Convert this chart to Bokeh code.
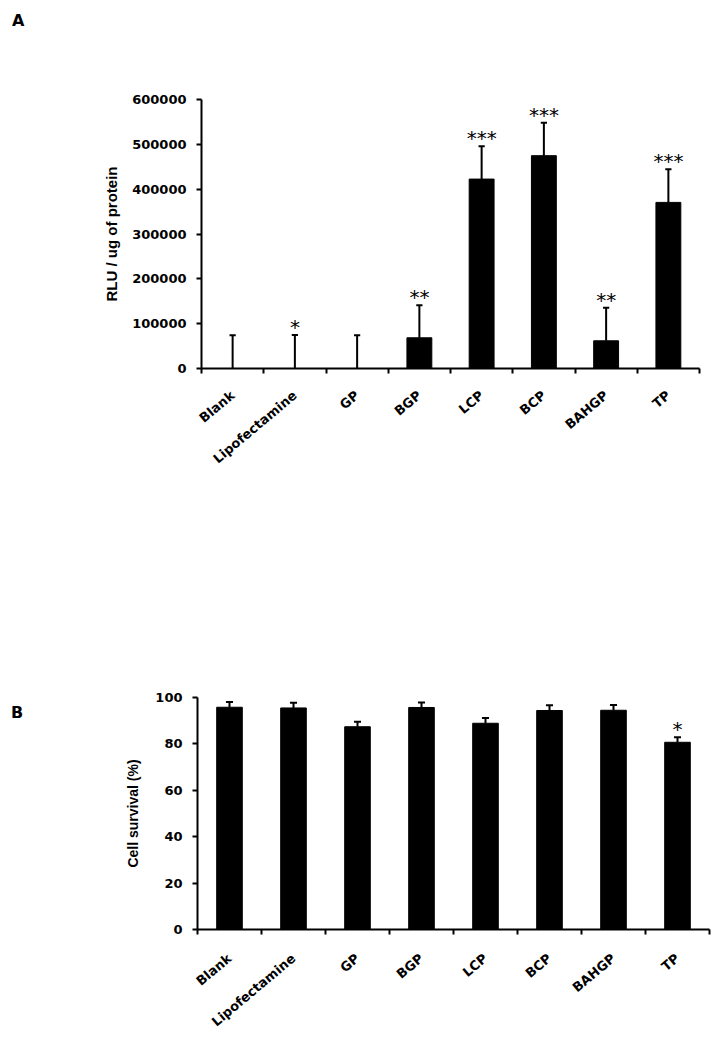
import math
from bokeh.plotting import figure
from bokeh.models import ColumnDataSource, FixedTicker, NumeralTickFormatter, Range1d, Div
from bokeh.layouts import column, row
from bokeh.embed import file_html
from bokeh.resources import INLINE
from bokeh.core.properties import value

categories = ["Blank", "Lipofectamine", "GP", "BGP", "LCP", "BCP", "BAHGP", "TP"]

rlu_mean = [0, 0, 0, 68500, 422500, 474700, 61800, 370500]
rlu_err = [74000, 75000, 74000, 72800, 73000, 73700, 73700, 73700]
rlu_sig = ["", "*", "", "**", "***", "***", "**", "***"]
rlu_ticks = [0, 100000, 200000, 300000, 400000, 500000, 600000]

surv_mean = [95.8, 95.5, 87.4, 95.7, 88.9, 94.4, 94.5, 80.7]
surv_err = [2.3, 2.2, 2.1, 2.1, 2.3, 2.3, 2.3, 2.2]
surv_sig = ["", "", "", "", "", "", "", "*"]
surv_ticks = [0, 20, 40, 60, 80, 100]

TICK_FONT = "DejaVu Sans"
LABEL_FONT = "Liberation Sans"
WIDTH = 720
AXIS_AREA = 100


def make_panel(mean, err, sig, yticks, ylabel, letter, height, frame_left,
               border_right, border_top, frame_h, letter_pad, cap_half,
               ylabel_size, ylabel_standoff, xlabel_standoff):
    n = len(categories)
    xs = [i + 1 for i in range(n)]
    hi = [m + e for m, e in zip(mean, err)]
    src = ColumnDataSource(dict(
        x=xs, top=mean, hi=hi,
        xl=[x - cap_half for x in xs], xr=[x + cap_half for x in xs],
        sig=sig,
    ))
    border_bottom = height - border_top - frame_h
    side_w = frame_left - AXIS_AREA
    p = figure(width=WIDTH - side_w, height=height, output_backend="svg", toolbar_location=None,
               x_range=Range1d(0.5, n + 0.5), y_range=Range1d(yticks[0], yticks[-1]),
               min_border_left=AXIS_AREA, min_border_right=border_right,
               min_border_top=border_top, min_border_bottom=border_bottom)
    p.outline_line_color = None
    p.xgrid.visible = False
    p.ygrid.visible = False
    p.background_fill_color = "white"
    p.border_fill_color = "white"

    p.vbar(x="x", top="top", width=0.4, bottom=0, source=src,
           fill_color="black", line_color="black", line_width=1)
    p.segment(x0="x", y0="top", x1="x", y1="hi", source=src, line_color="black", line_width=2)
    p.segment(x0="xl", y0="hi", x1="xr", y1="hi", source=src, line_color="black", line_width=2)
    p.text(x="x", y="hi", text="sig", source=src, text_align="center",
           text_baseline="alphabetic", y_offset=-8, text_font=value("DejaVu Sans"),
           text_font_size="20px", text_color="black")

    # x axis
    xa = p.xaxis[0]
    xa.ticker = FixedTicker(ticks=xs, minor_ticks=[i + 0.5 for i in range(n + 1)])
    xa.major_label_overrides = {x: c for x, c in zip(xs, categories)}
    xa.major_tick_out = 0
    xa.major_tick_in = 0
    xa.minor_tick_out = 5
    xa.minor_tick_in = 0
    xa.minor_tick_line_width = 2
    xa.minor_tick_line_color = "black"
    xa.axis_line_width = 2
    xa.axis_line_color = "black"
    xa.major_label_orientation = math.radians(40)
    xa.major_label_text_font = TICK_FONT
    xa.major_label_text_font_style = "bold"
    xa.major_label_text_font_size = "13px"
    xa.major_label_text_color = "black"
    xa.major_label_standoff = xlabel_standoff

    # y axis
    ya = p.yaxis[0]
    ya.ticker = FixedTicker(ticks=yticks)
    ya.formatter = NumeralTickFormatter(format="0")
    ya.minor_tick_line_color = None
    ya.major_tick_out = 5
    ya.major_tick_in = 0
    ya.major_tick_line_width = 2
    ya.major_tick_line_color = "black"
    ya.axis_line_width = 2
    ya.axis_line_color = "black"
    ya.major_label_text_font = TICK_FONT
    ya.major_label_text_font_style = "bold"
    ya.major_label_text_font_size = "13px"
    ya.major_label_text_color = "black"
    ya.major_label_standoff = 10
    ya.axis_label = ylabel
    ya.axis_label_text_font = LABEL_FONT
    ya.axis_label_text_font_style = "bold"
    ya.axis_label_text_font_size = ylabel_size
    ya.axis_label_text_color = "black"
    ya.axis_label_standoff = ylabel_standoff

    # panel letter in a side strip
    div = Div(
        text=('<div style="font-family: \'DejaVu Sans\'; font-weight: bold; font-size: 16px; '
              'line-height: 16px; color: black; margin: 0; padding: %dpx 0 0 %dpx;">%s</div>'
              % (letter_pad[1], letter_pad[0], letter)),
        width=side_w, height=height, margin=(0, 0, 0, 0),
    )
    return row(div, p, spacing=0)


pA = make_panel(rlu_mean, rlu_err, rlu_sig, rlu_ticks, "RLU / ug of protein", "A",
                height=568, frame_left=200, border_right=21, border_top=99, frame_h=269,
                letter_pad=(12, 13), cap_half=0.05, ylabel_size="15px",
                ylabel_standoff=9, xlabel_standoff=20)
pB = make_panel(surv_mean, surv_err, surv_sig, surv_ticks, "Cell survival (%)", "B",
                height=482, frame_left=197, border_right=11, border_top=129, frame_h=232,
                letter_pad=(11, 137), cap_half=0.055, ylabel_size="14px",
                ylabel_standoff=11, xlabel_standoff=22)

layout = column(pA, pB, spacing=0)
open("out.html", "w").write(file_html(layout, INLINE))
